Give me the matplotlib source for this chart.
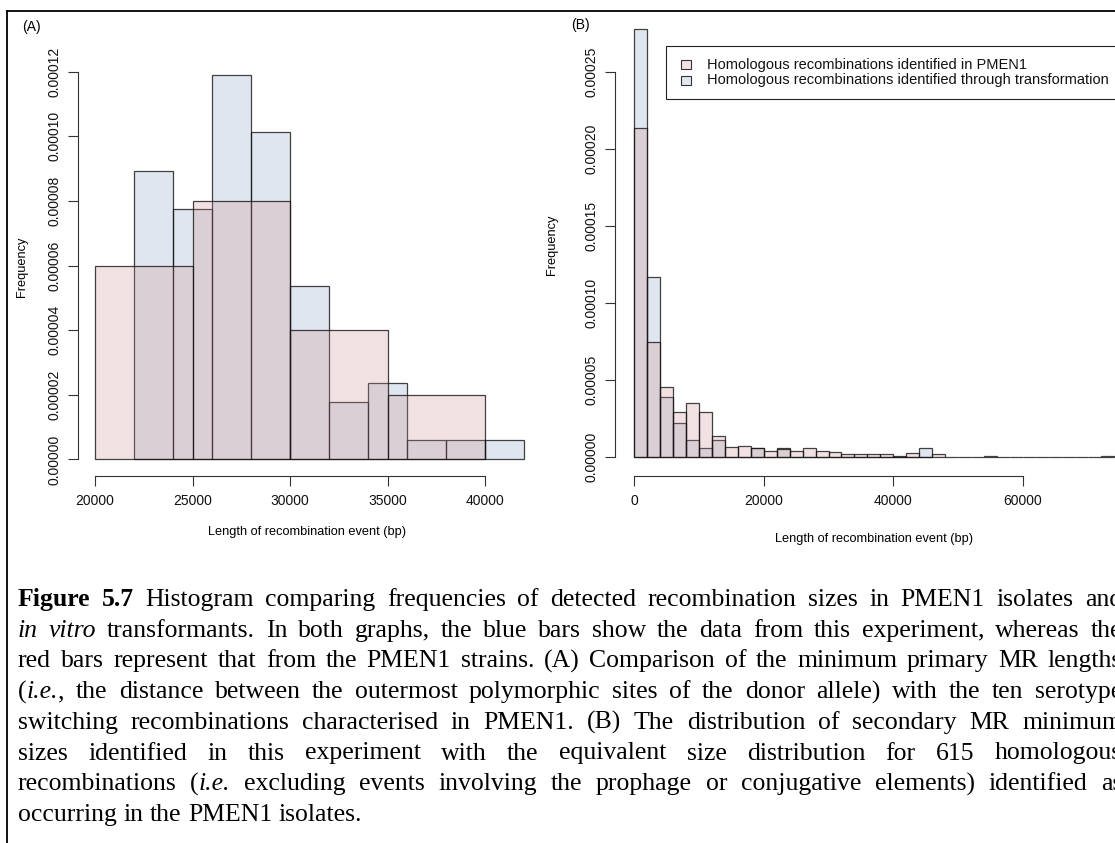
import re
import matplotlib
matplotlib.use("Agg")
import matplotlib.pyplot as plt
from matplotlib.lines import Line2D
from matplotlib.patches import Rectangle

W, H, DPI = 1115, 843, 100

# (A) serotype switching events in PMEN1 vs primary MR lengths in transformants
A_PMEN1_EDGES = [20000, 25000, 30000, 35000, 40000]
A_PMEN1_COUNTS = [3, 4, 2, 1]
A_TRANS_EDGES = [22000, 24000, 26000, 28000, 30000, 32000, 34000, 36000, 38000, 40000, 42000]
A_TRANS_COUNTS = [15, 13, 20, 17, 9, 3, 4, 1, 1, 1]
A_XTICKS = [20000, 25000, 30000, 35000, 40000]
A_YTICKS = [0.0, 0.00002, 0.00004, 0.00006, 0.00008, 0.00010, 0.00012]

# (B) secondary MR sizes, 2 kb bins from 0
B_BIN = 2000
B_PMEN1_COUNTS = [263, 92, 56, 36, 43, 36, 17, 8, 9, 7, 5, 6, 5, 7, 5, 4, 2, 2, 2, 2,
                  1, 3, 0, 2, 0, 0, 0, 1, 0, 0, 0, 0, 0, 0, 0, 0, 1]
B_TRANS_COUNTS = [50, 21, 7, 4, 2, 1, 2, 0, 0, 1, 0, 1, 0, 0, 0, 0, 0, 0, 0, 0, 0, 0, 1]
B_XTICKS = [0, 20000, 40000, 60000]
B_YTICKS = [0.0, 0.00005, 0.00010, 0.00015, 0.00020, 0.00025]

LEGEND_LABELS = ["Homologous recombinations identified in PMEN1",
                 "Homologous recombinations identified through transformation"]
XLABEL = "Length of recombination event (bp)"
YLABEL = "Frequency"

CAPTION = [
    "**Figure** **5.7** Histogram comparing frequencies of detected recombination sizes in PMEN1 isolates and",
    "*in* *vitro* transformants. In both graphs, the blue bars show the data from this experiment, whereas the",
    "red bars represent that from the PMEN1 strains. (A) Comparison of the minimum primary MR lengths",
    "(*i.e.*, the distance between the outermost polymorphic sites of the donor allele) with the ten serotype",
    "switching recombinations characterised in PMEN1. (B) The distribution of secondary MR minimum",
    "sizes identified in this experiment with the equivalent size distribution for 615 homologous",
    "recombinations (*i.e.* excluding events involving the prophage or conjugative elements) identified as",
    "occurring in the PMEN1 isolates.",
]

PMEN1_COL = (0.81, 0.545, 0.56, 0.25)
TRANS_COL = (0.53, 0.61, 0.765, 0.25)
EDGE_COL = (0.08, 0.08, 0.08, 0.8)
AXIS_COL = "#333333"

plt.rcParams["font.family"] = ["Liberation Sans", "DejaVu Sans"]

fig = plt.figure(figsize=(W / DPI, H / DPI), dpi=DPI)


def panel_axes(xmap, ymap, xlim, axis_px, ytop):
    """Axes whose data space maps onto given pixel anchors (pixels from top-left)."""
    (x0p, x0v), (x1p, x1v) = xmap
    sx = (x1p - x0p) / (x1v - x0v)
    left = x0p + (xlim[0] - x0v) * sx
    right = x0p + (xlim[1] - x0v) * sx
    (y0p, y0v), (y1p, y1v) = ymap
    sy = (y1p - y0p) / (y1v - y0v)
    top = y0p + (ytop - y0v) * sy
    ybot = y0v + (axis_px - y0p) / sy
    ax = fig.add_axes([left / W, 1 - axis_px / H, (right - left) / W, (axis_px - top) / H])
    ax.set_xlim(xlim)
    ax.set_ylim(ybot, ytop)
    return ax


def style_axes(ax, xticks, yticks):
    for s in ("top", "right"):
        ax.spines[s].set_visible(False)
    for s in ("left", "bottom"):
        ax.spines[s].set_color(AXIS_COL)
        ax.spines[s].set_linewidth(0.8)
    ax.spines["left"].set_bounds(yticks[0], yticks[-1])
    ax.spines["bottom"].set_bounds(xticks[0], xticks[-1])
    ax.set_xticks(xticks)
    ax.set_xticklabels([str(t) for t in xticks])
    ax.set_yticks(yticks)
    ax.set_yticklabels(["%.5f" % t for t in yticks])
    ax.tick_params(direction="out", length=7, width=0.8, color=AXIS_COL,
                   labelsize=10, labelcolor="#111111")
    ax.tick_params(axis="x", pad=6)
    ax.tick_params(axis="y", pad=4.5, labelrotation=90)
    for lab in ax.get_yticklabels():
        lab.set_va("center")
    ax.patch.set_visible(False)


def draw_hist(ax, edges, counts, color):
    ax.hist(edges[:-1], bins=edges, weights=counts, density=True,
            facecolor=color, edgecolor=EDGE_COL, linewidth=0.9)


# --- panel A
axA = panel_axes(((95, 20000), (485, 40000)), ((459.5, 0.0), (71.7, 0.00012)),
                 (19120, 42880), 476, 0.0001238)
draw_hist(axA, A_TRANS_EDGES, A_TRANS_COUNTS, TRANS_COL)
draw_hist(axA, A_PMEN1_EDGES, A_PMEN1_COUNTS, PMEN1_COL)
style_axes(axA, A_XTICKS, A_YTICKS)

# --- panel B
b_pmen1_edges = [i * B_BIN for i in range(len(B_PMEN1_COUNTS) + 1)]
b_trans_edges = [i * B_BIN for i in range(len(B_TRANS_COUNTS) + 1)]
axB = panel_axes(((634, 0), (1023, 60000)), ((457, 0.0), (72, 0.00025)),
                 (-2960, 76960), 476, 0.0002891)
draw_hist(axB, b_trans_edges, B_TRANS_COUNTS, TRANS_COL)
draw_hist(axB, b_pmen1_edges, B_PMEN1_COUNTS, PMEN1_COL)
style_axes(axB, B_XTICKS, B_YTICKS)


def ftext(x, y, s, **kw):
    return fig.text(x / W, 1 - y / H, s, **kw)


# axis titles
ftext(22, 267, YLABEL, rotation=90, ha="center", va="center", fontsize=9.2)
ftext(307, 532, XLABEL, ha="center", va="center", fontsize=9.2)
ftext(552, 245, YLABEL, rotation=90, ha="center", va="center", fontsize=9.2)
ftext(874, 539, XLABEL, ha="center", va="center", fontsize=9.2)
ftext(22, 27, "(A)", ha="left", va="center", fontsize=10)
ftext(571, 25, "(B)", ha="left", va="center", fontsize=10)

# legend box for panel B
fig.add_artist(Rectangle((666 / W, 1 - 99 / H), 460 / W, 53 / H, transform=fig.transFigure,
                         facecolor="white", edgecolor="#222222", linewidth=0.8))
for i, (lab, col) in enumerate(zip(LEGEND_LABELS, [PMEN1_COL, TRANS_COL])):
    yc = 64.5 + i * 15.8
    shade = tuple(1 - col[3] + col[3] * c for c in col[:3])
    fig.add_artist(Rectangle((681 / W, 1 - (yc + 4.5) / H), 10 / W, 9 / H,
                             transform=fig.transFigure, facecolor=shade,
                             edgecolor="#333333", linewidth=0.8))
    ftext(707, yc, lab, ha="left", va="center", fontsize=10.5, color="#111111")

# page frame
fig.add_artist(Line2D([7 / W, 7 / W], [0, 1 - 11 / H], transform=fig.transFigure,
                      color="black", linewidth=1.3))
fig.add_artist(Line2D([7 / W, 1], [1 - 11 / H, 1 - 11 / H], transform=fig.transFigure,
                      color="black", linewidth=1.3))

# justified caption
CAP_LEFT, CAP_RIGHT = 18, 1122
CAP_Y0, CAP_DY = 606, 30.7
CAP_SIZE = 18.5
renderer = fig.canvas.get_renderer()


def segments(word):
    out = []
    for p in re.split(r"(\*\*[^*]+\*\*|\*[^*]+\*)", word):
        if not p:
            continue
        if p.startswith("**"):
            out.append((p[2:-2], "bold", "normal"))
        elif p.startswith("*"):
            out.append((p[1:-1], "normal", "italic"))
        else:
            out.append((p, "normal", "normal"))
    return out


def seg_width(s, weight, style):
    t = fig.text(0, 0, s, fontsize=CAP_SIZE, family="Liberation Serif",
                 weight=weight, style=style)
    w = t.get_window_extent(renderer).width
    t.remove()
    return w


space_w = seg_width("a a", "normal", "normal") - seg_width("aa", "normal", "normal")

for li, line in enumerate(CAPTION):
    words = [segments(w) for w in line.split()]
    widths = [[seg_width(*sg) for sg in wd] for wd in words]
    total = sum(sum(ws) for ws in widths)
    last = li == len(CAPTION) - 1
    gap = space_w if last else (CAP_RIGHT - CAP_LEFT - total) / (len(words) - 1)
    x = CAP_LEFT
    y = CAP_Y0 + li * CAP_DY
    for wd, ws in zip(words, widths):
        for (s, weight, style), w in zip(wd, ws):
            ftext(x, y, s, fontsize=CAP_SIZE, family="Liberation Serif",
                  weight=weight, style=style, ha="left", va="baseline", color="black")
            x += w
        x += gap

fig.savefig("out.png", dpi=DPI)
